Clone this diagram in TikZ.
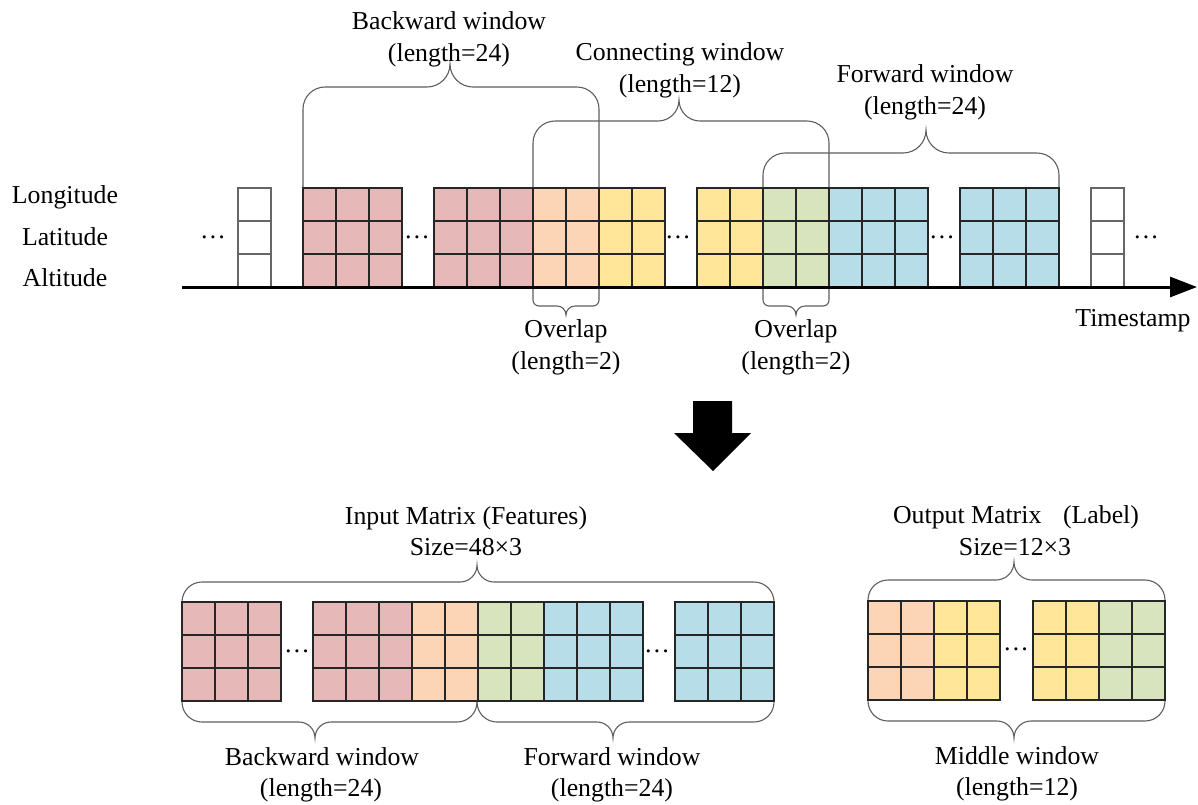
\documentclass[tikz,border=0pt]{standalone}
\usepackage{fontspec}
\setmainfont{Liberation Serif}
\usetikzlibrary{arrows.meta}

\definecolor{cpink}{HTML}{E6B9B8}
\definecolor{cpeach}{HTML}{FBD5B5}
\definecolor{cyellow}{HTML}{FFE699}
\definecolor{cgreen}{HTML}{D7E4BD}
\definecolor{cblue}{HTML}{B7DEE8}
\definecolor{bracegray}{HTML}{5E5E5E}

\tikzset{
  lbl/.style={font=\fontsize{25.8}{31}\selectfont, inner sep=0pt, anchor=base},
  cell/.style={draw=black!85, line width=1.2pt},
  blankcell/.style={draw=black!60, line width=1.2pt},
  brace/.style={draw=bracegray, line width=1.1pt},
}

% a block of 3 rows x n columns of 33 x 33 cells
% [extra style] {left x}{top y}{columns}{fill}
\newcommand{\cellblock}[5][]{%
  \foreach \ci in {1,...,#4}{\foreach \rj in {0,1,2}{%
    \draw[cell, fill=#5, #1] ({#2+(\ci-1)*33},{#3+\rj*33}) rectangle ++(33,33);}}}

% rounded window brace
% {x1}{x2}{tip x}{foot y}{bar y}{corner r}{tip r}{direction: 1 up, -1 down}
\newcommand{\winbrace}[8]{%
  \draw[brace] ({#1},{#4}) -- ({#1},{#5+(#8)*#6})
    .. controls ({#1},{#5+(#8)*0.448*#6}) and ({#1+0.448*#6},{#5}) .. ({#1+#6},{#5})
    -- ({#3-#7},{#5})
    .. controls ({#3-0.448*#7},{#5}) and ({#3},{#5-(#8)*0.448*#7}) .. ({#3},{#5-(#8)*#7})
    .. controls ({#3},{#5-(#8)*0.448*#7}) and ({#3+0.448*#7},{#5}) .. ({#3+#7},{#5})
    -- ({#2-#6},{#5})
    .. controls ({#2-0.448*#6},{#5}) and ({#2},{#5+(#8)*0.448*#6}) .. ({#2},{#5+(#8)*#6})
    -- ({#2},{#4});}

\begin{document}
\begin{tikzpicture}[x=1pt, y=-1pt]
\useasboundingbox (0,0) rectangle (1198,804);

% ---------- time series ----------
% window braces above the series
\winbrace{303}{599}{450}{188}{87}{22}{23}{1}
\winbrace{533}{829}{679}{188}{121}{22}{21}{1}
\winbrace{763}{1059}{926}{188}{153}{22}{23}{1}
% overlap braces below the axis
\winbrace{533}{599}{566}{288}{306}{6}{9}{-1}
\winbrace{763}{829}{796}{288}{306}{6}{9}{-1}

% cells
\cellblock[blankcell]{238}{188}{1}{white}
\cellblock{303}{188}{3}{cpink}
\cellblock{434}{188}{3}{cpink}
\cellblock{533}{188}{2}{cpeach}
\cellblock{599}{188}{2}{cyellow}
\cellblock{697}{188}{2}{cyellow}
\cellblock{763}{188}{2}{cgreen}
\cellblock{829}{188}{3}{cblue}
\cellblock{960}{188}{3}{cblue}
\cellblock[blankcell]{1091}{188}{1}{white}

% time axis
\coordinate (axisstart) at (182,287);
\coordinate (axisend) at (1197,287);
\draw[line width=3pt, -{Triangle[length=27pt,width=20pt]}] (axisstart) -- (axisend);

% row labels
\node[lbl] (lon) at (65,203) {Longitude};
\node[lbl] (lat) at (65,245) {Latitude};
\node[lbl] (alt) at (65,286) {Altitude};

% gaps in the series
\node[lbl] (gapa) at (213,238) {\ldots};
\node[lbl] (gapb) at (417,238) {\ldots};
\node[lbl] (gapc) at (678,238) {\ldots};
\node[lbl] (gapd) at (942,238) {\ldots};
\node[lbl] (gape) at (1146,238) {\ldots};

% window labels
\node[lbl] (bwa) at (449,29) {Backward window};
\node[lbl] (bwb) at (449,61) {(length=24)};
\node[lbl] (cwa) at (680,60) {Connecting window};
\node[lbl] (cwb) at (680,92) {(length=12)};
\node[lbl] (fwa) at (925,82) {Forward window};
\node[lbl] (fwb) at (925,114) {(length=24)};
\node[lbl] (ovaa) at (566,337) {Overlap};
\node[lbl] (ovab) at (566,369) {(length=2)};
\node[lbl] (ovba) at (796,337) {Overlap};
\node[lbl] (ovbb) at (796,369) {(length=2)};
\node[lbl] (ts) at (1133,326) {Timestamp};

% ---------- transformation arrow ----------
\fill[black] (693,401) -- (732,401) -- (732,433) -- (751,433) -- (713,471)
  -- (674,433) -- (693,433) -- cycle;

% ---------- input matrix ----------
\winbrace{182}{774}{477}{602}{582}{20}{17}{1}
\winbrace{182}{477}{315}{701}{722}{20}{16}{-1}
\winbrace{477}{774}{613}{701}{722}{20}{16}{-1}

\cellblock{182}{602}{3}{cpink}
\cellblock{313}{602}{3}{cpink}
\cellblock{412}{602}{2}{cpeach}
\cellblock{478}{602}{2}{cgreen}
\cellblock{544}{602}{3}{cblue}
\cellblock{675}{602}{3}{cblue}

\node[lbl] (gapf) at (297,652) {\ldots};
\node[lbl] (gapg) at (657,652) {\ldots};

\node[lbl] (ina) at (466,524) {Input Matrix (Features)};
\node[lbl] (inb) at (466,555) {Size=48×3};
\node[lbl] (bba) at (322,765) {Backward window};
\node[lbl] (bbb) at (321,796) {(length=24)};
\node[lbl] (fba) at (612,765) {Forward window};
\node[lbl] (fbb) at (612,796) {(length=24)};

% ---------- output matrix ----------
\winbrace{868}{1165}{1014}{601}{580}{20}{18}{1}
\winbrace{868}{1165}{1014}{700}{721}{20}{17}{-1}

\cellblock{868}{601}{2}{cpeach}
\cellblock{934}{601}{2}{cyellow}
\cellblock{1033}{601}{2}{cyellow}
\cellblock{1099}{601}{2}{cgreen}

\node[lbl] (gaph) at (1016,650) {\ldots};

\node[lbl] (outa) at (1016,523) {Output Matrix\hspace{0.84em}(Label)};
\node[lbl] (outb) at (1015,555) {Size=12×3};
\node[lbl] (mwa) at (1017,764) {Middle window};
\node[lbl] (mwb) at (1017,795) {(length=12)};
\end{tikzpicture}
\end{document}
